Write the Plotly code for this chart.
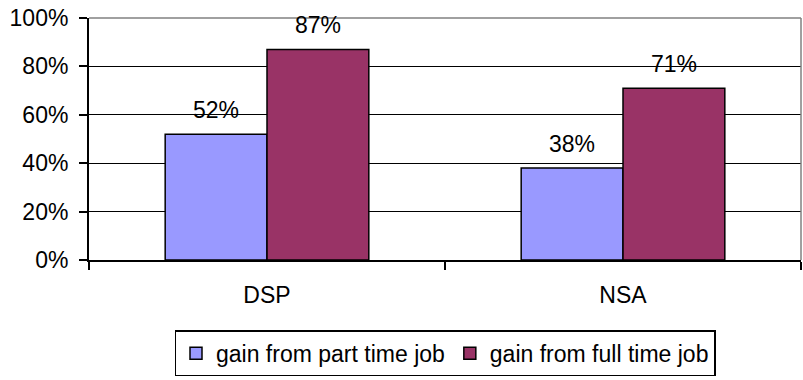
import plotly.graph_objects as go

categories = ["DSP", "NSA"]
part_time = [52, 38]
full_time = [87, 71]
series_names = ["gain from part time job", "gain from full time job"]
y_ticks = [0, 20, 40, 60, 80, 100]
y_tick_labels = ["0%", "20%", "40%", "60%", "80%", "100%"]

FONT = "Liberation Sans, Arial, sans-serif"
fig = go.Figure()
fig.add_trace(go.Bar(x=categories, y=part_time, name=series_names[0],
                     marker=dict(color="#9999FF", line=dict(color="black", width=1.5))))
fig.add_trace(go.Bar(x=categories, y=full_time, name=series_names[1],
                     marker=dict(color="#993366", line=dict(color="black", width=1.5))))

for vals, shift in [(part_time, -51), (full_time, 51)]:
    for c, v in zip(categories, vals):
        fig.add_annotation(x=c, y=v, text=f"{v}%", showarrow=False, xshift=shift,
                           yanchor="bottom", yshift=9, font=dict(size=23, color="black", family=FONT))

fig.update_layout(
    width=803, height=380,
    margin=dict(l=89, r=2, t=18, b=120, autoexpand=False),
    paper_bgcolor="white", plot_bgcolor="white",
    barmode="group", bargap=0.428, bargroupgap=0,
    font=dict(family=FONT, size=23, color="black"),
    showlegend=True,
    legend=dict(orientation="h", x=0.5, xanchor="center", y=-0.29, yanchor="top",
                bordercolor="black", borderwidth=1.5, font=dict(size=23),
                itemwidth=30, tracegroupgap=0),
    xaxis=dict(showline=True, linecolor="black", linewidth=2, ticks="outside",
               tickson="boundaries", ticklen=8, tickcolor="black", tickwidth=1.5,
               showgrid=False, mirror=False, ticklabelstandoff=13, automargin=False),
    yaxis=dict(range=[0, 100], tickvals=y_ticks, ticktext=y_tick_labels,
               showline=True, linecolor="black", linewidth=2, ticks="outside",
               ticklen=8, tickcolor="black", tickwidth=1.5, showgrid=True, gridcolor="black",
               gridwidth=1, zeroline=False, ticklabelstandoff=6, automargin=False),
)
fig.add_shape(type="line", xref="paper", yref="paper", x0=0, x1=1, y0=1, y1=1,
              line=dict(color="#808080", width=1.5))
fig.add_shape(type="line", xref="paper", yref="paper", x0=1, x1=1, y0=0, y1=1,
              line=dict(color="#808080", width=1.5))
fig.write_html("out.html")
